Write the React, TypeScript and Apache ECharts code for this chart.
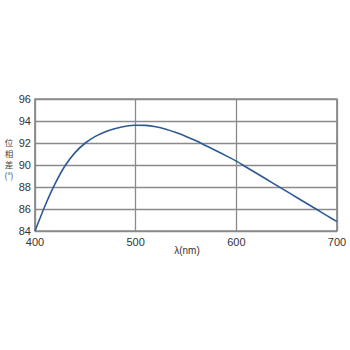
import React, { useEffect, useRef } from "react";
import * as echarts from "echarts";

const wavelengths = [400, 410, 420, 430, 440, 450, 460, 470, 480, 490, 500, 510, 520, 530, 540, 550, 560, 570, 580, 590, 600, 610, 620, 630, 640, 650, 660, 670, 680, 690, 700];
const phaseDiff = [84.0, 86.3, 88.3, 89.95, 91.15, 92.0, 92.6, 93.02, 93.32, 93.52, 93.62, 93.6, 93.47, 93.25, 92.95, 92.6, 92.2, 91.75, 91.3, 90.83, 90.35, 89.8, 89.25, 88.7, 88.15, 87.6, 87.05, 86.5, 85.95, 85.4, 84.85];
const xTicks = [400, 500, 600, 700];
const yTicks = [84, 86, 88, 90, 92, 94, 96];
const yName = "位\n相\n差\n(°)";
const xName = "λ(nm)";

export default function App() {
  const ref = useRef<HTMLDivElement>(null);
  useEffect(() => {
    document.body.style.margin = "0";
    const chart = echarts.init(ref.current!, null, { renderer: "svg" });
    const font = "Liberation Sans, Arial, sans-serif";
    chart.setOption({
      animation: false,
      backgroundColor: "#ffffff",
      grid: { left: 35, top: 99, width: 302, height: 132, show: true, borderColor: "#555", borderWidth: 1.2 },
      xAxis: {
        type: "value",
        min: xTicks[0],
        max: xTicks[xTicks.length - 1],
        interval: 100,
        axisLine: { show: false },
        axisTick: { show: false },
        splitLine: { show: true, lineStyle: { color: "#8a8a8a", width: 1.3 } },
        axisLabel: { color: "#333", fontSize: 11, fontFamily: font, margin: 5 },
      },
      yAxis: {
        type: "value",
        min: yTicks[0],
        max: yTicks[yTicks.length - 1],
        interval: 2,
        axisLine: { show: false },
        axisTick: { show: false },
        splitLine: { show: true, lineStyle: { color: "#8a8a8a", width: 1.3 } },
        axisLabel: { color: "#333", fontSize: 11, fontFamily: font, margin: 4 },
      },
      graphic: [
        {
          type: "text",
          x: 9,
          y: 158,
          style: {
            text: yName,
            fill: "#444",
            fontSize: 8.5,
            fontFamily: "'Noto Sans CJK JP', sans-serif",
            lineHeight: 11,
            align: "center",
            verticalAlign: "middle",
          },
        },
        {
          type: "text",
          x: 187,
          y: 250,
          style: {
            text: xName,
            fill: "#333",
            fontSize: 10,
            fontFamily: font,
            align: "center",
            verticalAlign: "middle",
          },
        },
      ],
      series: [
        {
          type: "line",
          data: wavelengths.map((w, i) => [w, phaseDiff[i]]),
          smooth: 0.3,
          showSymbol: false,
          lineStyle: { color: "#2c5a98", width: 1.6 },
        },
      ],
    });
    return () => chart.dispose();
  }, []);
  return <div ref={ref} style={{ width: 350, height: 350 }} />;
}
